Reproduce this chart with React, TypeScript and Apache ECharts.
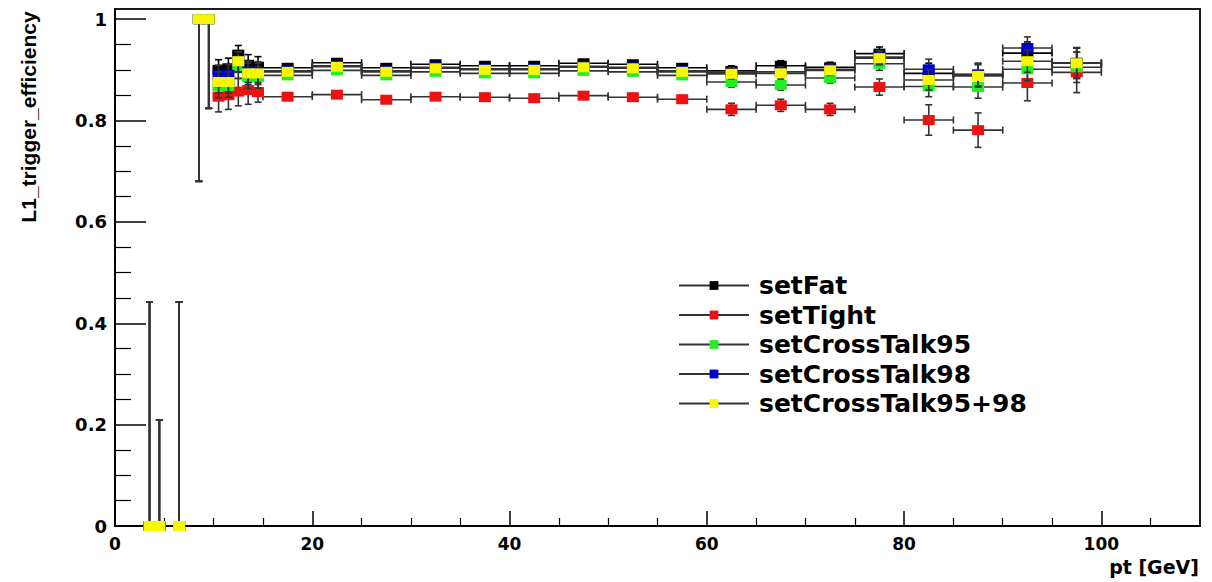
import React, { useEffect, useRef } from 'react';
import * as echarts from 'echarts';

// ---------- data ----------
const binCenters = [3.5, 4.5, 6.5, 8.5, 9.5, 10.5, 11.5, 12.5, 13.5, 14.5, 17.5, 22.5, 27.5, 32.5, 37.5, 42.5, 47.5, 52.5, 57.5, 62.5, 67.5, 72.5, 77.5, 82.5, 87.5, 92.5, 97.5];
const binHalfWidths = [0.5, 0.5, 0.5, 0.5, 0.5, 0.5, 0.5, 0.5, 0.5, 0.5, 2.5, 2.5, 2.5, 2.5, 2.5, 2.5, 2.5, 2.5, 2.5, 2.5, 2.5, 2.5, 2.5, 2.5, 2.5, 2.5, 2.5];

const setFat = [0, 0, 0, 1, 1, 0.900, 0.903, 0.930, 0.910, 0.906, 0.904, 0.914, 0.904, 0.911, 0.908, 0.908, 0.913, 0.911, 0.904, 0.898, 0.908, 0.905, 0.932, 0.893, 0.891, 0.933, 0.913];
const setTight = [0, 0, 0, 1, 1, 0.847, 0.850, 0.857, 0.860, 0.856, 0.847, 0.851, 0.841, 0.847, 0.846, 0.844, 0.849, 0.846, 0.842, 0.822, 0.830, 0.822, 0.866, 0.801, 0.781, 0.874, 0.895];
const setCrossTalk95 = [0, 0, 0, 1, 1, 0.867, 0.868, 0.905, 0.885, 0.886, 0.889, 0.899, 0.889, 0.896, 0.893, 0.893, 0.898, 0.896, 0.889, 0.876, 0.870, 0.884, 0.912, 0.867, 0.866, 0.901, 0.905];
const setCrossTalk98 = [0, 0, 0, 1, 1, 0.889, 0.890, 0.918, 0.897, 0.896, 0.898, 0.908, 0.898, 0.905, 0.902, 0.902, 0.907, 0.905, 0.898, 0.894, 0.896, 0.901, 0.925, 0.901, 0.890, 0.943, 0.914];
const setCrossTalk9598 = [0, 0, 0, 1, 1, 0.876, 0.876, 0.917, 0.893, 0.893, 0.896, 0.906, 0.896, 0.903, 0.900, 0.900, 0.905, 0.903, 0.896, 0.892, 0.893, 0.899, 0.923, 0.880, 0.888, 0.917, 0.913];

const errLow = [0, 0, 0, 0.32, 0.176, 0.022, 0.022, 0.022, 0.022, 0.022, 0.006, 0.006, 0.006, 0.006, 0.006, 0.006, 0.006, 0.006, 0.006, 0.010, 0.010, 0.010, 0.013, 0.020, 0.022, 0.022, 0.030];
const errHigh = [0.442, 0.209, 0.442, 0, 0, 0.020, 0.020, 0.018, 0.020, 0.020, 0.006, 0.006, 0.006, 0.006, 0.006, 0.006, 0.006, 0.006, 0.006, 0.010, 0.010, 0.010, 0.013, 0.020, 0.022, 0.022, 0.030];
const errLowTight = [0, 0, 0, 0.32, 0.176, 0.030, 0.028, 0.028, 0.028, 0.020, 0.007, 0.007, 0.007, 0.007, 0.007, 0.007, 0.007, 0.007, 0.007, 0.012, 0.012, 0.012, 0.016, 0.030, 0.034, 0.035, 0.040];
const errHighTight = [0.442, 0.209, 0.442, 0, 0, 0.026, 0.026, 0.026, 0.026, 0.020, 0.007, 0.007, 0.007, 0.007, 0.007, 0.007, 0.007, 0.007, 0.007, 0.012, 0.012, 0.012, 0.016, 0.030, 0.034, 0.035, 0.040];

const seriesNames = ['setFat', 'setTight', 'setCrossTalk95', 'setCrossTalk98', 'setCrossTalk95+98'];
const seriesValues = [setFat, setTight, setCrossTalk95, setCrossTalk98, setCrossTalk9598];
const seriesErrLow = [errLow, errLowTight, errLow, errLow, errLow];
const seriesErrHigh = [errHigh, errHighTight, errHigh, errHigh, errHigh];
const markerColors = ['#000000', '#ee1111', '#22ee22', '#0000cc', '#f7f700'];
const barColors = ['#000000', '#333333', '#333333', '#333333', '#333333'];

const xMajorTicks = [0, 20, 40, 60, 80, 100];
const xMinorTicks = [5, 10, 15, 25, 30, 35, 45, 50, 55, 65, 70, 75, 85, 90, 95, 105];
const yMajorTicks = [0, 0.2, 0.4, 0.6, 0.8, 1];
const yMinorTicks = [0.05, 0.1, 0.15, 0.25, 0.3, 0.35, 0.45, 0.5, 0.55, 0.65, 0.7, 0.75, 0.85, 0.9, 0.95];

const LABEL_FONT = '"DejaVu Sans", sans-serif';

function errorSeries(k: number) {
  const vals = seriesValues[k];
  const lo = seriesErrLow[k];
  const hi = seriesErrHigh[k];
  const color = barColors[k];
  const data = binCenters.map((x, i) => [x, vals[i], x - binHalfWidths[i], x + binHalfWidths[i], vals[i] - lo[i], vals[i] + hi[i]]);
  return {
    type: 'custom',
    name: seriesNames[k] + ' errors',
    xAxisIndex: 0,
    yAxisIndex: 0,
    silent: true,
    clip: false,
    z: 2 + 2 * k,
    data,
    encode: { x: 0, y: 1 },
    renderItem: (params: any, api: any) => {
      const x = api.value(0);
      const y = api.value(1);
      const x0 = api.value(2);
      const x1 = api.value(3);
      const y0 = api.value(4);
      const y1 = api.value(5);
      const c = api.coord([x, y]);
      const pL = api.coord([x0, y]);
      const pR = api.coord([x1, y]);
      const pB = api.coord([x, y0]);
      const pT = api.coord([x, y1]);
      const style = { stroke: color, lineWidth: 1.6, fill: null };
      const cap = 3.5;
      const children: any[] = [
        { type: 'line', shape: { x1: pL[0], y1: pL[1], x2: pR[0], y2: pR[1] }, style },
        { type: 'line', shape: { x1: pL[0], y1: pL[1] - cap, x2: pL[0], y2: pL[1] + cap }, style },
        { type: 'line', shape: { x1: pR[0], y1: pR[1] - cap, x2: pR[0], y2: pR[1] + cap }, style },
      ];
      if (y1 > y) {
        children.push({ type: 'line', shape: { x1: c[0], y1: c[1], x2: pT[0], y2: pT[1] }, style });
        children.push({ type: 'line', shape: { x1: pT[0] - cap, y1: pT[1], x2: pT[0] + cap, y2: pT[1] }, style });
      }
      if (y0 < y) {
        children.push({ type: 'line', shape: { x1: c[0], y1: c[1], x2: pB[0], y2: pB[1] }, style });
        children.push({ type: 'line', shape: { x1: pB[0] - cap, y1: pB[1], x2: pB[0] + cap, y2: pB[1] }, style });
      }
      return { type: 'group', children };
    },
  };
}

function markerSeries(k: number) {
  const vals = seriesValues[k];
  return {
    type: 'line',
    name: seriesNames[k],
    xAxisIndex: 0,
    yAxisIndex: 0,
    data: binCenters.map((x, i) => [x, vals[i]]),
    symbol: 'rect',
    symbolSize: [12, 10],
    showSymbol: true,
    showAllSymbol: true,
    clip: false,
    z: 3 + 2 * k,
    lineStyle: { width: 0, opacity: 0 },
    itemStyle: { color: markerColors[k], opacity: 1 },
    emphasis: { disabled: true },
    silent: true,
  };
}

export default function App() {
  const ref = useRef<HTMLDivElement>(null);
  useEffect(() => {
    if (!ref.current) return;
    const chart = echarts.init(ref.current, undefined, { renderer: 'svg' });
    const series: any[] = [];
    for (let k = 0; k < seriesNames.length; k++) {
      series.push(errorSeries(k));
      series.push(markerSeries(k));
    }
    chart.setOption({
      animation: false,
      backgroundColor: '#ffffff',
      grid: { left: 115, right: 12, top: 9, bottom: 56, show: true, borderColor: '#1a1a1a', borderWidth: 2, backgroundColor: 'transparent' },
      xAxis: [
        {
          type: 'value', min: 0, max: 110, position: 'bottom',
          axisLine: { show: true, onZero: false, lineStyle: { color: '#000', width: 2 } },
          axisTick: { show: true, inside: true, length: 15, customValues: xMajorTicks, lineStyle: { color: '#000', width: 1.5 } },
          axisLabel: { show: true, customValues: xMajorTicks, margin: 9, color: '#000', fontFamily: LABEL_FONT, fontWeight: 'bold', fontSize: 17, formatter: (v: number) => String(v) },
          splitLine: { show: false },
        },
        {
          type: 'value', min: 0, max: 110, position: 'bottom',
          axisLine: { show: false },
          axisTick: { show: true, inside: true, length: 8, customValues: xMinorTicks, lineStyle: { color: '#000', width: 1.2 } },
          axisLabel: { show: false },
          splitLine: { show: false },
        },
      ],
      yAxis: [
        {
          type: 'value', min: 0, max: 1.02, position: 'left',
          axisLine: { show: true, onZero: false, lineStyle: { color: '#000', width: 2 } },
          axisTick: { show: true, inside: true, length: 31, customValues: yMajorTicks, lineStyle: { color: '#000', width: 1.5 } },
          axisLabel: {
            show: true, customValues: yMajorTicks, margin: 8, color: '#000', fontFamily: LABEL_FONT, fontWeight: 'bold', fontSize: 18,
            formatter: (v: number) => (v === 0 ? '0' : Math.abs(v - 1) < 1e-9 ? '1' : v.toFixed(1)),
          },
          splitLine: { show: false },
        },
        {
          type: 'value', min: 0, max: 1.02, position: 'left',
          axisLine: { show: false },
          axisTick: { show: true, inside: true, length: 16, customValues: yMinorTicks, lineStyle: { color: '#000', width: 1.2 } },
          axisLabel: { show: false },
          splitLine: { show: false },
        },
      ],
      legend: {
        data: seriesNames,
        orient: 'vertical',
        left: 673,
        top: 268,
        itemWidth: 70,
        itemHeight: 11,
        itemGap: 4.5,
        selectedMode: false,
        textStyle: { color: '#000', fontFamily: LABEL_FONT, fontWeight: 'bold', fontSize: 25, lineHeight: 24, padding: [0, 0, 0, 5] },
        lineStyle: { color: '#333', width: 2, opacity: 1, type: 'solid' },
      },
      graphic: [
        {
          type: 'text', x: 28, y: 117, rotation: Math.PI / 2, silent: true,
          style: { text: 'L1_trigger_efficiency', fill: '#000', fontFamily: '"Liberation Sans", Arial, sans-serif', fontWeight: 'bold', fontSize: 21, align: 'center', verticalAlign: 'middle' },
        },
        {
          type: 'text', x: 1199, y: 567, silent: true,
          style: { text: 'pt [GeV]', fill: '#000', fontFamily: LABEL_FONT, fontWeight: 'bold', fontSize: 19, align: 'right', verticalAlign: 'middle' },
        },
      ],
      series,
    });
    return () => chart.dispose();
  }, []);
  return <div ref={ref} style={{ position: 'absolute', left: 0, top: 0, width: 1212, height: 582, background: '#fff' }} />;
}
